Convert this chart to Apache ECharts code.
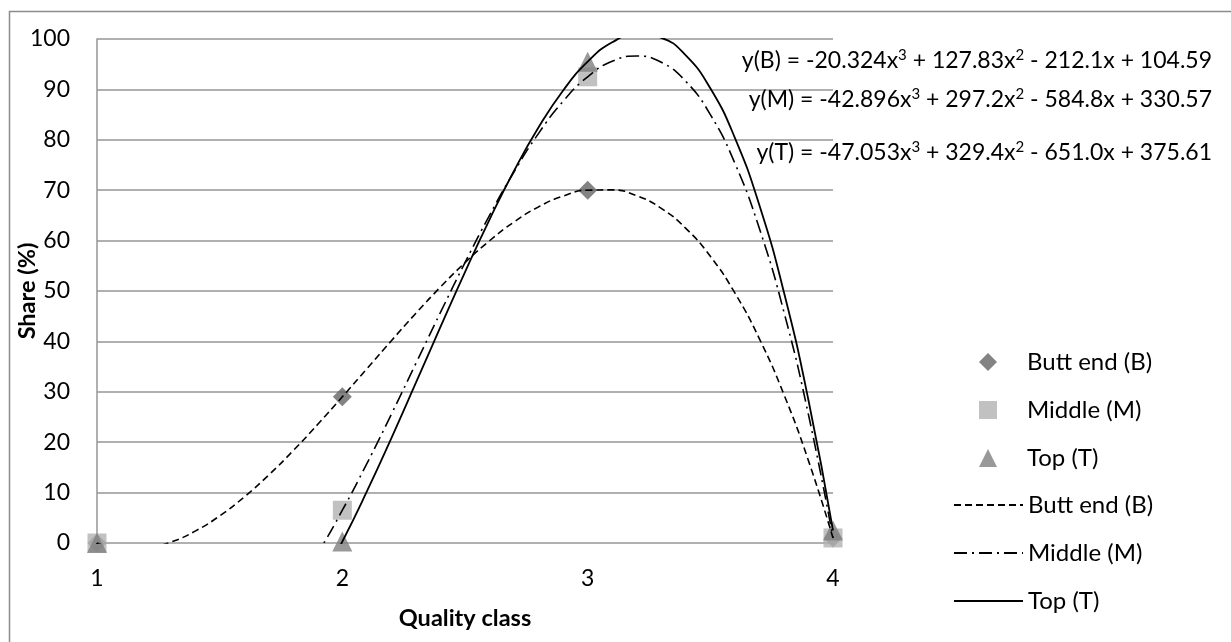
<!DOCTYPE html>
<html>
<head>
<meta charset="utf-8">
<script src="https://cdn.jsdelivr.net/npm/echarts@6/dist/echarts.min.js"></script>
<style>
html,body{margin:0;padding:0;background:#fff;}
#chart{width:1231px;height:642px;}
</style>
</head>
<body>
<div id="chart"></div>
<script>
// Measured points
var qualityClass = [1, 2, 3, 4];
var buttEnd = [0, 29, 70, 1];
var middle = [0, 6.5, 92.5, 1];
var topPart = [0, 0.3, 95.5, 2.5];

// Trend line values (x = 1.0 ... 4.0, step 0.1)
var curveX = [1.0,1.1,1.2,1.3,1.4,1.5,1.6,1.7,1.8,1.9,2.0,2.1,2.2,2.3,2.4,2.5,2.6,2.7,2.8,2.9,3.0,3.1,3.2,3.3,3.4,3.5,3.6,3.7,3.8,3.9,4.0];
var curveButt = [0,-1.12,-1.02,0.18,2.35,5.38,9.13,13.49,18.34,23.55,29,34.57,40.14,45.59,50.79,55.63,59.97,63.70,66.70,68.84,70,70.06,68.90,66.40,62.43,56.88,49.61,40.51,29.46,16.33,1];
var curveMiddle = [0,-10.25,-17.40,-21.69,-23.39,-22.75,-20.03,-15.49,-9.38,-1.97,6.5,15.76,25.56,35.65,45.75,55.63,65.01,73.64,81.28,87.65,92.5,95.58,96.62,95.38,91.59,85.0,75.35,62.38,45.84,25.46,1];
var curveTop = [0,-12.32,-21.15,-26.75,-29.42,-29.44,-27.09,-22.66,-16.43,-8.68,0.3,10.23,20.82,31.80,42.87,53.76,64.18,73.85,82.48,89.79,95.5,99.34,101.01,100.24,96.74,90.22,80.40,67.01,49.75,28.33,2.5];

var seriesNames = ['Butt end (B)', 'Middle (M)', 'Top (T)'];
var equations = [
  'y(B) = -20.324x{s|3} + 127.83x{s|2} - 212.1x + 104.59',
  'y(M) = -42.896x{s|3} + 297.2x{s|2} - 584.8x + 330.57',
  'y(T) = -47.053x{s|3} + 329.4x{s|2} - 651.0x + 375.61'
];
var yTicks = [0,10,20,30,40,50,60,70,80,90,100];

function pairs(xs, ys){ return xs.map(function(x,i){ return [x, ys[i]]; }); }

var FONT = 'Lato, "Open Sans", sans-serif';
var chart = echarts.init(document.getElementById('chart'), null, {renderer:'canvas'});
var eqY = [62, 101, 154];
var option = {
  animation: false,
  backgroundColor: '#fff',
  textStyle: {fontFamily: FONT},
  grid: {left: 97, right: 398, top: 39, bottom: 99, containLabel: false, outerBoundsMode: 'none'},
  xAxis: {
    type: 'value', min: 1, max: 4, interval: 1,
    name: 'Quality class', nameLocation: 'middle', nameGap: 63, nameMoveOverlap: false,
    nameTextStyle: {fontFamily: FONT, fontSize: 23.5, fontWeight: 'bold', color: '#000'},
    axisLine: {show: false}, axisTick: {show: false},
    splitLine: {show: false},
    axisLabel: {fontFamily: FONT, fontSize: 23, color: '#000', margin: 24}
  },
  yAxis: {
    type: 'value', min: 0, max: 100, interval: 10,
    name: 'Share (%)', nameLocation: 'middle', nameGap: 58, nameRotate: 90, nameMoveOverlap: false,
    nameTextStyle: {fontFamily: FONT, fontSize: 23.5, fontWeight: 'bold', color: '#000'},
    axisLine: {show: true, lineStyle: {color: '#969696', width: 1.5}},
    axisTick: {show: false},
    splitLine: {show: true, lineStyle: {color: '#969696', width: 1.5}},
    axisLabel: {fontFamily: FONT, fontSize: 23, color: '#000', margin: 27,
      formatter: function(v){ return yTicks.indexOf(v) >= 0 ? String(v) : ''; }}
  },
  legend: [
    {
      orient: 'vertical', left: 974, top: 345,
      itemWidth: 18, itemHeight: 18, itemGap: 24,
      textStyle: {fontFamily: FONT, fontSize: 24, color: '#000', lineHeight: 18, padding: [0,0,0,25]},
      data: [{name: seriesNames[0]}, {name: seriesNames[1]}, {name: seriesNames[2]}]
    },
    {
      orient: 'vertical', left: 948, top: 488,
      itemWidth: 69, itemHeight: 18, itemGap: 24,
      itemStyle: {opacity: 0},
      textStyle: {fontFamily: FONT, fontSize: 24, color: '#000', lineHeight: 18, padding: [0,0,0,0]},
      data: [{name: seriesNames[0] + ' '}, {name: seriesNames[1] + ' '}, {name: seriesNames[2] + ' '}]
    }
  ],
  graphic: [
    {type: 'rect', left: 7, top: 9, z: 0, silent: true,
     shape: {width: 1223, height: 645}, style: {fill: 'none', stroke: '#8c8c8c', lineWidth: 1.5}}
  ].concat(equations.map(function(t, i){
    return {type: 'text', right: 19, top: eqY[i] - 14, z: 100,
      style: {text: t, fill: '#000', font: '23px ' + FONT, textAlign: 'right',
        rich: {s: {fontSize: 15, fontFamily: FONT, verticalAlign: 'top', padding: [0,0,10,0], fill: '#000'}}}};
  })),
  series: [
    {name: seriesNames[0], type: 'scatter', data: pairs(qualityClass, buttEnd), symbol: 'diamond', symbolSize: 19, clip: false, itemStyle: {color: '#646464'}, z: 2},
    {name: seriesNames[1], type: 'scatter', data: pairs(qualityClass, middle), symbol: 'rect', symbolSize: 19, clip: false, itemStyle: {color: '#b2b2b2'}, z: 2},
    {name: seriesNames[2], type: 'scatter', data: pairs(qualityClass, topPart), symbol: 'triangle', symbolSize: 20, clip: false, itemStyle: {color: '#7f7f7f'}, z: 2},
    {name: seriesNames[0] + ' ', type: 'line', data: pairs(curveX, curveButt), showSymbol: false, symbol: 'none', smooth: true, clip: true,
     lineStyle: {color: '#000', width: 1.6, type: [7,4]}, itemStyle: {color: '#000'}, z: 3},
    {name: seriesNames[1] + ' ', type: 'line', data: pairs(curveX, curveMiddle), showSymbol: false, symbol: 'none', smooth: true, clip: true,
     lineStyle: {color: '#000', width: 1.6, type: [13,5,2,5]}, itemStyle: {color: '#000'}, z: 3},
    {name: seriesNames[2] + ' ', type: 'line', data: pairs(curveX, curveTop), showSymbol: false, symbol: 'none', smooth: true, clip: true,
     lineStyle: {color: '#000', width: 1.8, type: 'solid'}, itemStyle: {color: '#000'}, z: 3}
  ]
};
chart.setOption(option);
</script>
</body>
</html>
